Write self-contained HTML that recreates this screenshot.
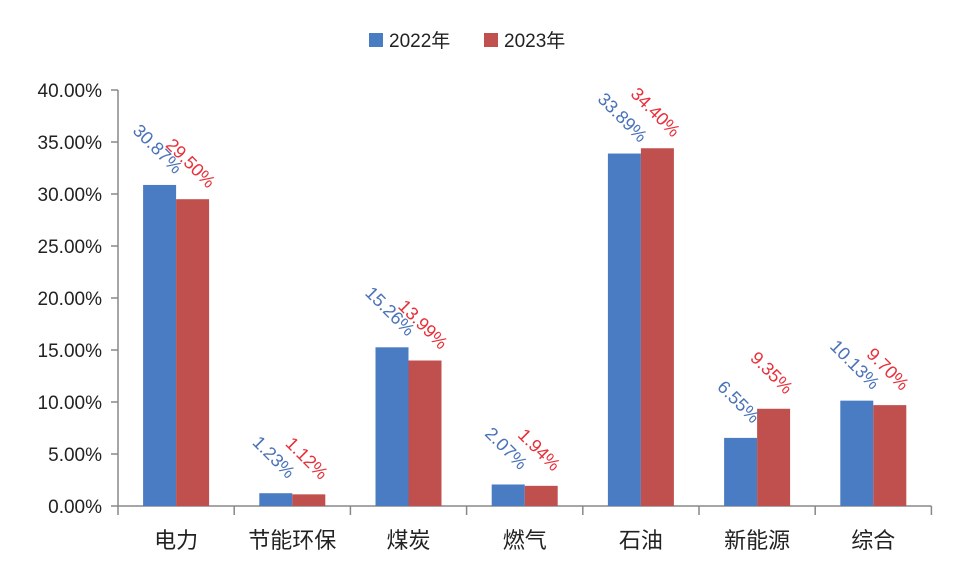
<!DOCTYPE html>
<html><head><meta charset="utf-8"><style>
body{margin:0;background:#fff;}
svg text{font-family:"Liberation Sans","Noto Sans CJK SC",sans-serif;}
</style></head><body>
<svg id="chart" width="960" height="576" xmlns="http://www.w3.org/2000/svg">
<g id="legend">
<rect x="369" y="33" width="14" height="14" fill="#4a7cc4"/>
<text x="389" y="47" font-size="19" fill="#222">2022年</text>
<rect x="484" y="33" width="14" height="14" fill="#c0504d"/>
<text x="504" y="47" font-size="19" fill="#222">2023年</text>
</g>
<g id="axes"></g>
<g id="bars"></g>
<g id="labels"></g>
</svg>
<script>
const categories=["电力","节能环保","煤炭","燃气","石油","新能源","综合"];
const values2022=[30.87,1.23,15.26,2.07,33.89,6.55,10.13];
const values2023=[29.50,1.12,13.99,1.94,34.40,9.35,9.70];
const yTicks=[0,5,10,15,20,25,30,35,40];
const NS="http://www.w3.org/2000/svg";
const x0=118,bandW=116.2,y0=506,yTop=90,yMax=40,barW=33;
function yScale(v){return y0-(v/yMax)*(y0-yTop);}
function xBand(i){return x0+i*bandW;}
function mk(tag,attrs,parent){const e=document.createElementNS(NS,tag);for(const k in attrs)e.setAttribute(k,attrs[k]);parent.appendChild(e);return e;}
const axes=document.getElementById('axes'),bars=document.getElementById('bars'),labels=document.getElementById('labels');
const yl=mk('line',{x1:x0,y1:yTop,x2:x0,y2:y0,stroke:'#888','stroke-width':1.5},axes);


const xl=mk('line',{x1:x0,y1:y0,x2:xBand(7),y2:y0,stroke:'#888','stroke-width':1.5},axes);


yTicks.forEach(t=>{
  const y=yScale(t);
  mk('line',{x1:x0-7,y1:y,x2:x0,y2:y,stroke:'#888','stroke-width':1.5},axes);
  const tx=mk('text',{x:x0-16,y:y+7,'text-anchor':'end','font-size':19,fill:'#222'},axes);
  tx.textContent=t.toFixed(2)+'%';
  
  
});
for(let i=0;i<=categories.length;i++){
  mk('line',{x1:xBand(i),y1:y0,x2:xBand(i),y2:y0+9,stroke:'#888','stroke-width':1.5},axes);
}
categories.forEach((c,i)=>{
  const cx=xBand(i)+bandW/2;
  const tx=mk('text',{x:cx,y:548,'text-anchor':'middle','font-size':22,fill:'#222'},axes);
  tx.textContent=c;
  
  
  [[values2022[i],'#4a7cc4','#4a72b8',-barW],[values2023[i],'#c0504d','#e8303a',0]].forEach(([v,fill,tc,off],k)=>{
    const y=yScale(v);
    const r=mk('rect',{x:cx+off,y:y,width:barW,height:y0-y,fill:fill},bars);
    
    
    const lx=cx+off+barW/2-2, ly=y-36;
    const t=mk('text',{x:lx,y:ly+6,'text-anchor':'middle','font-size':18,fill:tc,transform:`rotate(45 ${lx} ${ly})`},labels);
    t.textContent=v.toFixed(2)+'%';
    
    
  });
});
</script>
</body></html>
